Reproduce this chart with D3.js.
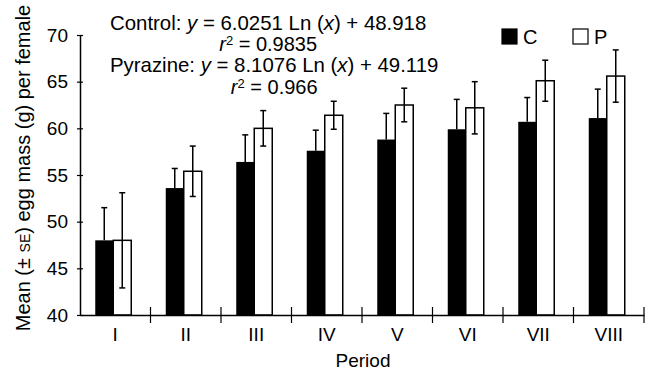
<!DOCTYPE html>
<html>
<head>
<meta charset="utf-8">
<script src="https://cdn.jsdelivr.net/npm/d3@7"></script>
<style>
  body { margin: 0; background: #fff; }
  svg { font-family: "Liberation Sans", Arial, sans-serif; }
</style>
</head>
<body>
<div id="chart"></div>
<script>
// data
var periods = ["I", "II", "III", "IV", "V", "VI", "VII", "VIII"];
var controlMean = [48.0, 53.6, 56.4, 57.6, 58.8, 59.9, 60.7, 61.1];
var controlSE   = [3.5, 2.1, 2.9, 2.2, 2.8, 3.2, 2.6, 3.1];
var pyrazineMean = [48.0, 55.4, 60.0, 61.4, 62.5, 62.2, 65.1, 65.6];
var pyrazineSE   = [5.1, 2.7, 1.9, 1.5, 1.8, 2.8, 2.2, 2.8];
var yTicks = [40, 45, 50, 55, 60, 65, 70];

var width = 649, height = 372;
var margin = {top: 35, right: 5, bottom: 57, left: 80};

var svg = d3.select("#chart").append("svg")
    .attr("width", width)
    .attr("height", height);

var x = d3.scaleBand()
    .domain(periods)
    .range([margin.left, 644]);

var y = d3.scaleLinear()
    .domain([40, 70])
    .range([315, 35]);

var barW = 18;

var rows = periods.map(function(p, i){
    return {period: p, c: controlMean[i], cse: controlSE[i], p: pyrazineMean[i], pse: pyrazineSE[i]};
});

// bars
var g = svg.append("g");

rows.forEach(function(d){
    var cx = x(d.period) + x.bandwidth() / 2 - 2;

    // control error bar (upper only, sits above black bar)
    g.append("line")
        .attr("x1", cx - barW / 2).attr("x2", cx - barW / 2)
        .attr("y1", y(d.c)).attr("y2", y(d.c + d.cse))
        .attr("stroke", "#000").attr("stroke-width", 1.5);
    g.append("line")
        .attr("x1", cx - barW / 2 - 3).attr("x2", cx - barW / 2 + 3)
        .attr("y1", y(d.c + d.cse)).attr("y2", y(d.c + d.cse))
        .attr("stroke", "#000").attr("stroke-width", 1.5);

    g.append("rect")
        .attr("x", cx - barW)
        .attr("y", y(d.c))
        .attr("width", barW)
        .attr("height", y(40) - y(d.c))
        .attr("fill", "#000");

    g.append("rect")
        .attr("x", cx)
        .attr("y", y(d.p))
        .attr("width", barW)
        .attr("height", y(40) - y(d.p))
        .attr("fill", "#fff")
        .attr("stroke", "#000")
        .attr("stroke-width", 1.5);

    // pyrazine error bar
    var px = cx + barW / 2;
    g.append("line")
        .attr("x1", px).attr("x2", px)
        .attr("y1", y(d.p - d.pse)).attr("y2", y(d.p + d.pse))
        .attr("stroke", "#000").attr("stroke-width", 1.5);
    [d.p - d.pse, d.p + d.pse].forEach(function(v){
        g.append("line")
            .attr("x1", px - 3).attr("x2", px + 3)
            .attr("y1", y(v)).attr("y2", y(v))
            .attr("stroke", "#000").attr("stroke-width", 1.5);
    });
});

// y axis
var yAxis = d3.axisLeft(y).tickValues(yTicks).tickSize(0).tickPadding(12);
var yg = svg.append("g")
    .attr("transform", "translate(" + margin.left + ",0)")
    .call(yAxis);
yg.select(".domain").attr("stroke-width", 1.5);
yg.selectAll("text").attr("font-size", 19).attr("fill", "#000");
yg.selectAll(".tick").append("line")
    .attr("x1", -3).attr("x2", 3)
    .attr("stroke", "#000").attr("stroke-width", 1.2);

// x axis
var xAxis = d3.axisBottom(x).tickSize(0).tickPadding(13);
var xg = svg.append("g")
    .attr("transform", "translate(0," + y(40) + ")")
    .call(xAxis);
xg.select(".domain").attr("stroke-width", 1.5);
xg.selectAll("text").attr("font-size", 19).attr("fill", "#000");
var bounds = periods.map(function(p){ return x(p); }).concat([x.range()[1]]);
xg.selectAll(".bnd").data(bounds.slice(1)).enter().append("line")
    .attr("x1", function(d){ return d; }).attr("x2", function(d){ return d; })
    .attr("y1", -8).attr("y2", 8)
    .attr("stroke", "#000").attr("stroke-width", 1.2);

// axis titles
svg.append("text")
    .attr("x", 363).attr("y", 367)
    .attr("text-anchor", "middle")
    .attr("font-size", 19)
    .text("Period");

var yt = svg.append("text")
    .attr("transform", "translate(30,168) rotate(-90)")
    .attr("text-anchor", "middle")
    .attr("font-size", 20);
yt.append("tspan").text("Mean (± ");
yt.append("tspan").attr("font-size", 14).text("SE");
yt.append("tspan").text(") egg mass (g) per female");

// regression annotations
function eqLine(tx, ty, label, a, b){
    var t = svg.append("text").attr("x", tx).attr("y", ty).attr("font-size", 20.4);
    t.append("tspan").text(label + ": ");
    t.append("tspan").attr("font-style", "italic").text("y");
    t.append("tspan").text(" = " + a + " Ln (");
    t.append("tspan").attr("font-style", "italic").text("x");
    t.append("tspan").text(") + " + b);
    return t;
}
function r2Line(eq, ty, r){
    var bb = eq.node().getBBox();
    var t = svg.append("text")
        .attr("x", bb.x + bb.width / 2).attr("y", ty)
        .attr("text-anchor", "middle")
        .attr("font-size", 20);
    t.append("tspan").attr("font-style", "italic").text("r");
    t.append("tspan").attr("font-size", 13).attr("dy", -6).text("2");
    t.append("tspan").attr("dy", 6).text(" = " + r);
}
var eqC = eqLine(110, 30, "Control", "6.0251", "48.918");
r2Line(eqC, 51, "0.9835");
var eqP = eqLine(110, 72, "Pyrazine", "8.1076", "49.119");
r2Line(eqP, 94, "0.966");

// legend
var legend = [{k: "C", fill: "#000", x: 502}, {k: "P", fill: "#fff", x: 573}];
legend.forEach(function(l){
    svg.append("rect")
        .attr("x", l.x).attr("y", 29)
        .attr("width", 15).attr("height", 15)
        .attr("fill", l.fill).attr("stroke", "#000").attr("stroke-width", 1.2);
    svg.append("text")
        .attr("x", l.x + 21).attr("y", 44)
        .attr("font-size", 20)
        .text(l.k);
});
</script>
</body>
</html>
